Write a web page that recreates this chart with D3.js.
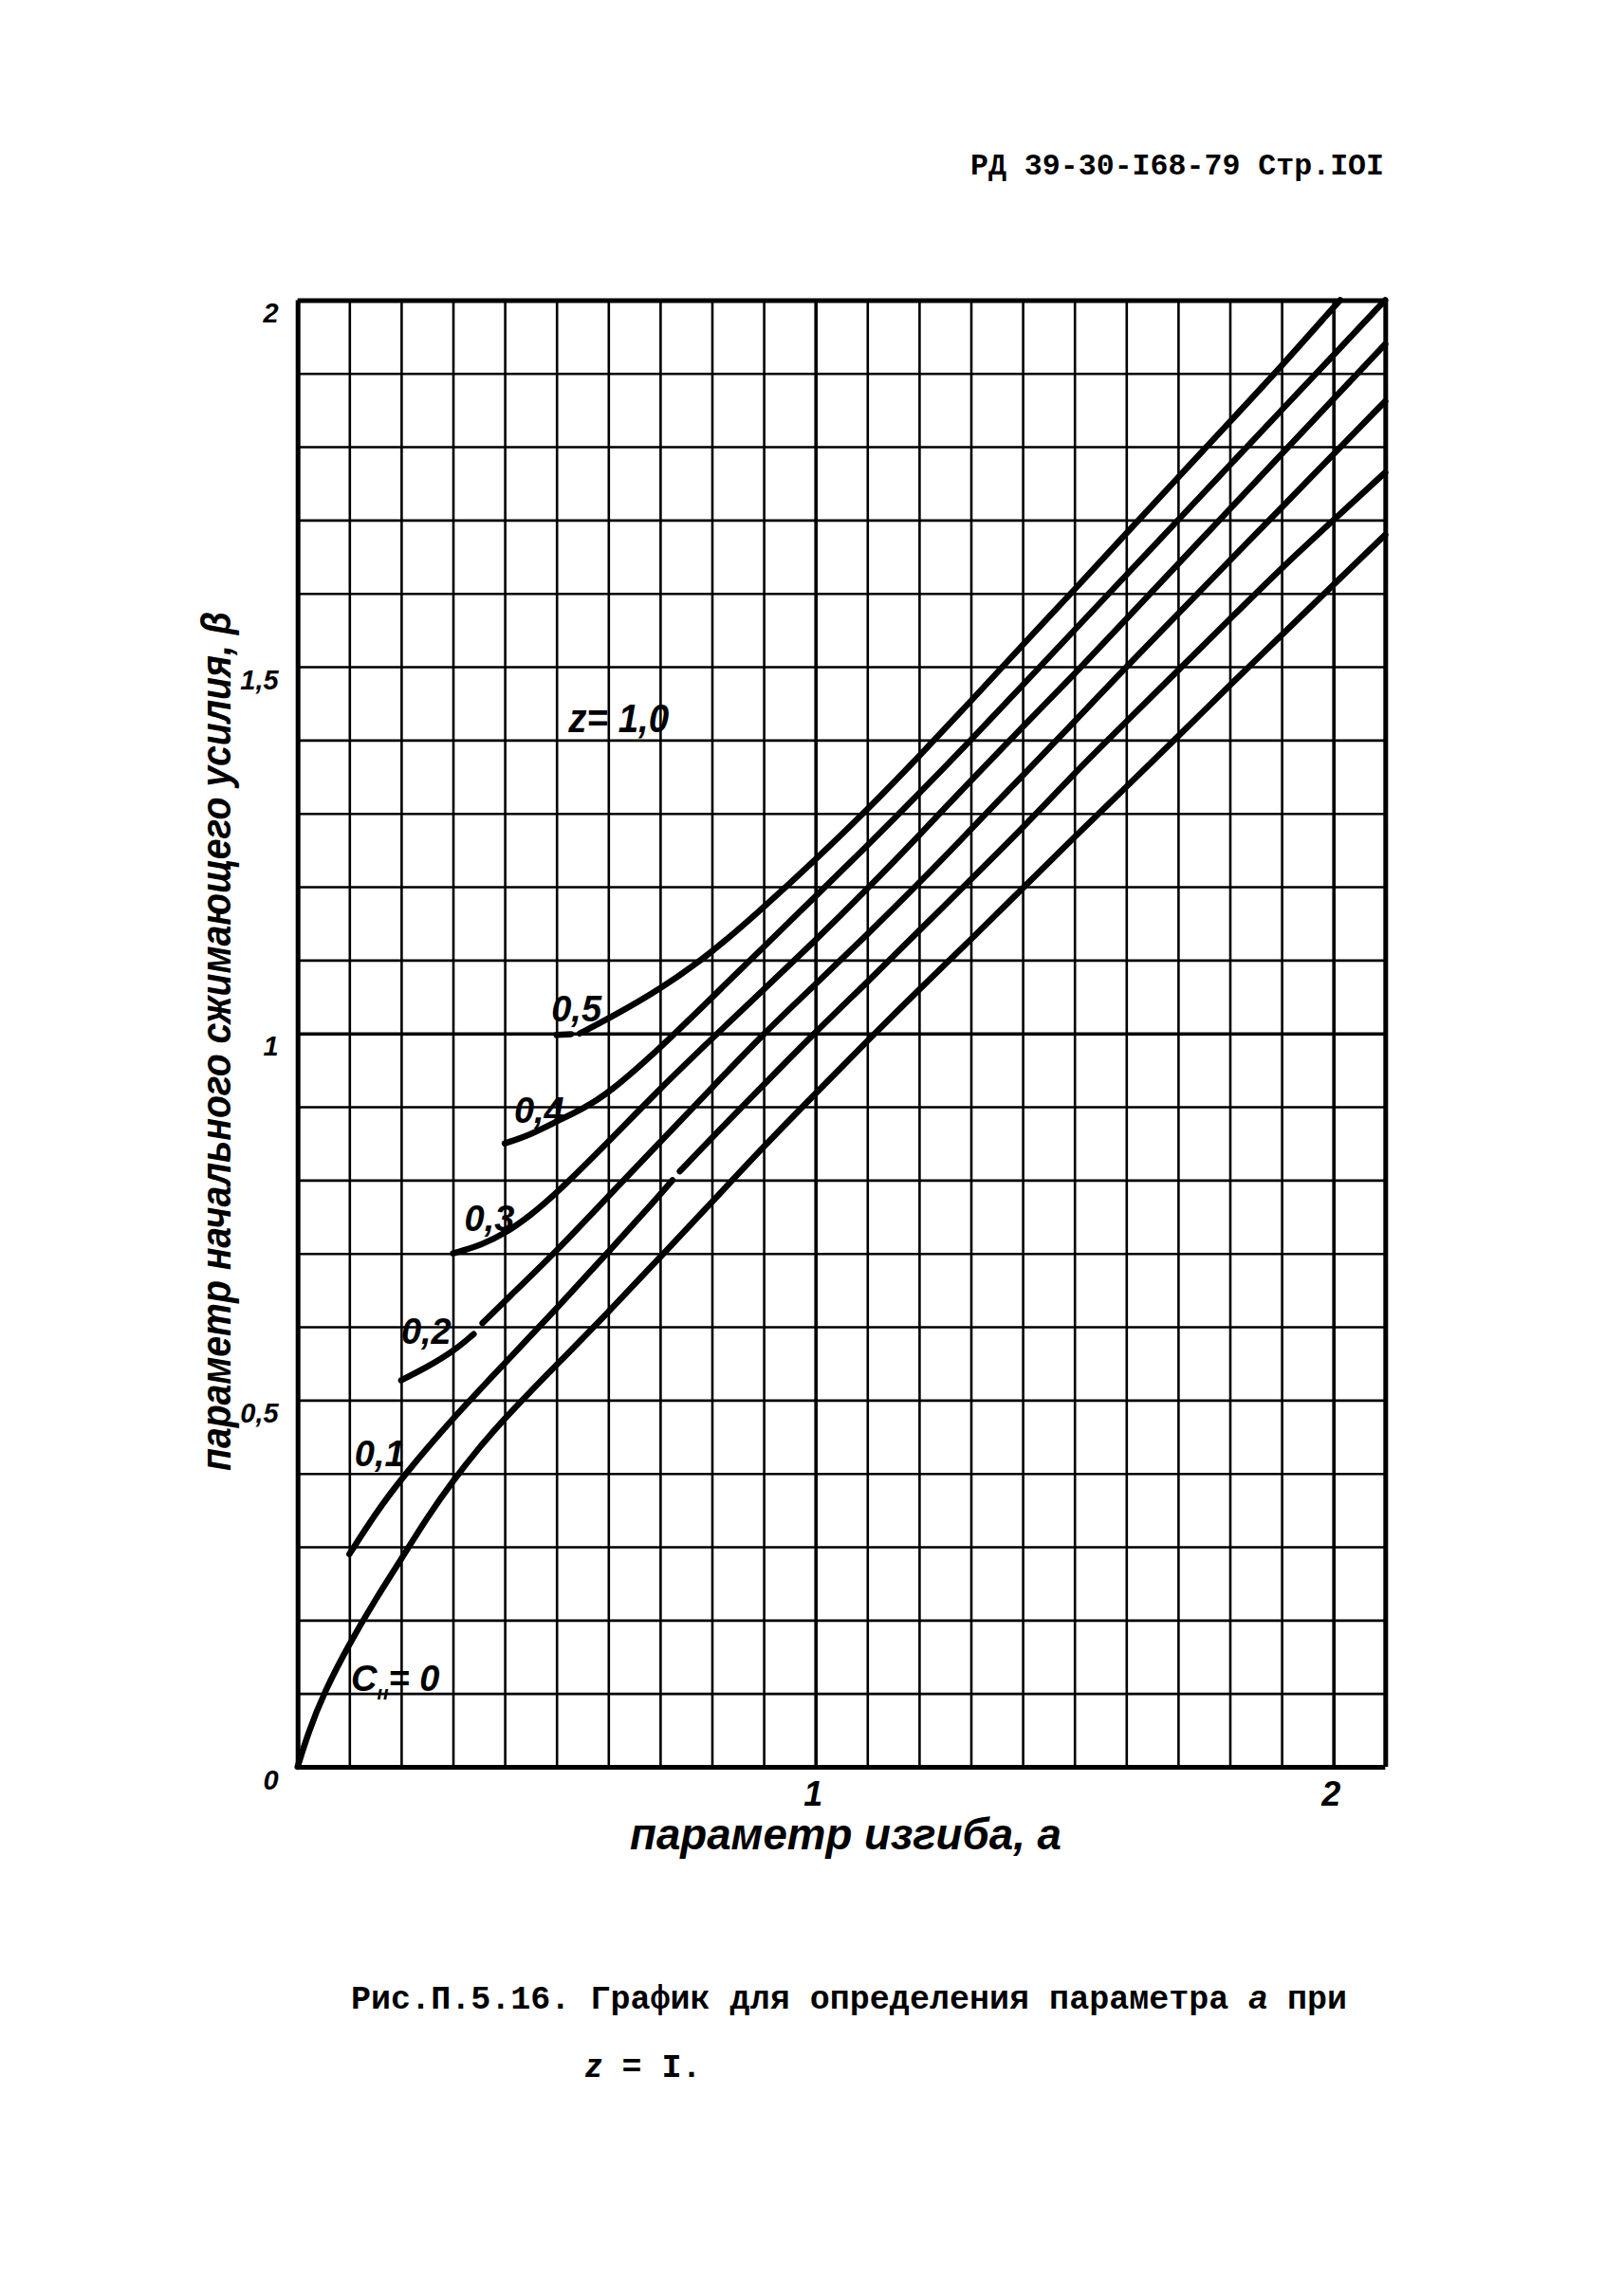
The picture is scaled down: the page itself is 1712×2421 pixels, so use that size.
<!DOCTYPE html>
<html><head><meta charset="utf-8">
<script src="https://cdn.jsdelivr.net/npm/d3@7"></script>
<style>body{margin:0;background:#fff;} svg{display:block;background:#fff;}</style>
</head><body>
<svg id="chart" width="1712" height="2421"></svg>
<script>
// ---------- data ----------
const xTickValues = [1, 2];
const xTickLabels = ["1", "2"];
const yTickValues = [0, 0.5, 1, 1.5, 2];
const yTickLabels = ["0", "0,5", "1", "1,5", "2"];
const seriesNames = ["0", "0,1", "0,2", "0,3", "0,4", "0,5"];

// curve points [a, beta]; null marks a break in the drawn line
const curveC0 = [[0,0],[0.02,0.045],[0.05,0.10],[0.1,0.168],[0.15,0.228],[0.2,0.283],[0.25,0.34],[0.3,0.39],[0.35,0.435],[0.4,0.475],[0.45,0.512],[0.5,0.548],[0.6,0.62],[0.7,0.695],[0.8,0.77],[0.9,0.846],[1.0,0.918],[1.1,0.99],[1.2,1.06],[1.3,1.128],[1.4,1.198],[1.5,1.268],[1.6,1.336],[1.7,1.405],[1.8,1.475],[1.9,1.543],[2.0,1.612],[2.1,1.68]];
const curveC1 = [[0.1,0.29],[0.15,0.345],[0.2,0.393],[0.3,0.476],[0.4,0.55],[0.5,0.625],[0.6,0.702],[0.7,0.78],[0.724,0.8],null,[0.738,0.812],[0.8,0.858],[0.9,0.93],[1.0,1.002],[1.1,1.07],[1.2,1.14],[1.3,1.21],[1.4,1.28],[1.5,1.355],[1.6,1.425],[1.7,1.495],[1.8,1.565],[1.9,1.635],[2.0,1.70],[2.1,1.765]];
const curveC2 = [[0.2,0.527],[0.25,0.545],[0.3,0.566],[0.34,0.59],null,[0.357,0.605],[0.4,0.635],[0.5,0.703],[0.6,0.778],[0.7,0.852],[0.8,0.926],[0.9,1.0],[1.0,1.067],[1.1,1.135],[1.2,1.205],[1.3,1.278],[1.4,1.352],[1.5,1.425],[1.6,1.50],[1.7,1.572],[1.8,1.645],[1.9,1.717],[2.0,1.79],[2.1,1.862]];
const curveC3 = [[0.3,0.70],[0.35,0.71],[0.4,0.727],[0.45,0.752],[0.5,0.782],[0.6,0.852],[0.7,0.925],[0.8,0.993],[0.9,1.06],[1.0,1.127],[1.1,1.197],[1.2,1.27],[1.3,1.345],[1.4,1.418],[1.5,1.49],[1.6,1.565],[1.7,1.64],[1.8,1.715],[1.9,1.79],[2.0,1.865],[2.1,1.94]];
const curveC4 = [[0.4,0.85],[0.45,0.862],[0.5,0.88],[0.55,0.897],[0.6,0.918],[0.7,0.98],[0.8,1.049],[0.9,1.118],[1.0,1.187],[1.1,1.256],[1.2,1.327],[1.3,1.4],[1.4,1.475],[1.5,1.55],[1.6,1.625],[1.7,1.70],[1.8,1.775],[1.9,1.85],[2.0,1.925],[2.1,2.0]];
const curveC5 = [[0.5,0.998],[0.528,0.999],null,[0.545,1.0],[0.6,1.02],[0.7,1.06],[0.8,1.11],[0.9,1.172],[1.0,1.237],[1.1,1.305],[1.2,1.378],[1.3,1.453],[1.4,1.53],[1.5,1.605],[1.6,1.682],[1.7,1.758],[1.8,1.834],[1.9,1.91],[2.0,1.99],[2.013,2.0]];
const curves = [curveC0, curveC1, curveC2, curveC3, curveC4, curveC5];

// label anchors in data units [a, beta]
const curveLabelAnchors = [[0.103,0.103],[0.11,0.41],[0.2,0.577],[0.322,0.73],[0.418,0.878],[0.49,1.017]];
const zLabelAnchor = [0.523, 1.411];

// ---------- layout ----------
const svg = d3.select("#chart");
const x = d3.scaleLinear().domain([0, 2.1]).range([313.7, 1460.3]);
const y = d3.scaleLinear().domain([0, 2]).range([1863, 316.4]);
const xGrid = d3.range(0, 22).map(i => +(i / 10).toFixed(1));
const yGrid = d3.range(0, 21).map(i => +(i / 10).toFixed(1));
const handFont = "'Liberation Sans', Arial, sans-serif";
const monoFont = "'Liberation Mono', 'DejaVu Sans Mono', monospace";

function gridWidth(v, max) {
  if (v === 0 || Math.abs(v - max) < 1e-9) return 5;
  if (Math.abs(v - Math.round(v)) < 1e-9) return 3.6;
  return 2.6;
}

// vertical grid
const gx = svg.append("g").attr("transform", `translate(0,${y(0)})`)
  .call(d3.axisBottom(x).tickValues(xGrid).tickSize(-(y(0) - y(2))).tickFormat(""));
gx.select(".domain").remove();
gx.selectAll(".tick line").attr("stroke", "#000").attr("stroke-width", d => gridWidth(d, 2.1));

// horizontal grid
const gy = svg.append("g").attr("transform", `translate(${x(0)},0)`)
  .call(d3.axisLeft(y).tickValues(yGrid).tickSize(-(x(2.1) - x(0))).tickFormat(""));
gy.select(".domain").remove();
gy.selectAll(".tick line").attr("stroke", "#000").attr("stroke-width", d => gridWidth(d, 2));

// curves
const line = d3.line().defined(d => d !== null).x(d => x(d[0])).y(d => y(d[1]))
  .curve(d3.curveBasis);
svg.append("g").selectAll("path").data(curves).join("path")
  .attr("d", line).attr("fill", "none").attr("stroke", "#000")
  .attr("stroke-width", 6.5).attr("stroke-linecap", "round").attr("stroke-linejoin", "round");

// tick labels
const ax = svg.append("g").attr("transform", `translate(0,${y(0)})`)
  .call(d3.axisBottom(x).tickValues(xTickValues).tickSize(0).tickFormat((d, i) => xTickLabels[i]));
ax.select(".domain").remove();
ax.selectAll("text").attr("font-family", handFont).attr("font-style", "italic").attr("font-weight", "bold")
  .attr("font-size", 36).attr("fill", "#000").attr("dy", "1.05em").attr("dx", -3);

const ay = svg.append("g").attr("transform", `translate(${x(0) - 17},0)`)
  .call(d3.axisLeft(y).tickValues(yTickValues).tickSize(0).tickFormat((d, i) => yTickLabels[i]));
ay.select(".domain").remove();
ay.selectAll("text").attr("font-family", handFont).attr("font-style", "italic").attr("font-weight", "bold")
  .attr("font-size", 29).attr("fill", "#000").attr("dy", "0.8em");

// axis titles
svg.append("text").attr("x", 664).attr("y", 1950)
  .attr("font-family", handFont).attr("font-style", "italic").attr("font-weight", "bold").attr("font-size", 46)
  .attr("textLength", 455).attr("lengthAdjust", "spacingAndGlyphs")
  .text("параметр изгиба,  a");

svg.append("text").attr("transform", "translate(243,1098) rotate(-90)")
  .attr("text-anchor", "middle")
  .attr("font-family", handFont).attr("font-style", "italic").attr("font-weight", "bold").attr("font-size", 44)
  .attr("textLength", 906).attr("lengthAdjust", "spacingAndGlyphs")
  .text("параметр начального сжимающего усилия, β");

// curve labels
svg.append("g").selectAll("text").data(seriesNames).join("text")
  .attr("x", (d, i) => x(curveLabelAnchors[i][0]))
  .attr("y", (d, i) => y(curveLabelAnchors[i][1]))
  .attr("font-family", handFont).attr("font-style", "italic").attr("font-weight", "bold")
  .attr("font-size", 38).attr("fill", "#000")
  .each(function (d, i) {
    const t = d3.select(this);
    if (i === 0) {
      t.append("tspan").text("C");
      t.append("tspan").attr("font-size", 20).attr("dy", 9).text("н");
      t.append("tspan").attr("dy", -9).text("= " + d);
    } else {
      t.text(d);
    }
  });

svg.append("text").attr("x", x(zLabelAnchor[0])).attr("y", y(zLabelAnchor[1]))
  .attr("font-family", handFont).attr("font-style", "italic").attr("font-weight", "bold")
  .attr("font-size", 42).attr("textLength", 106).attr("lengthAdjust", "spacingAndGlyphs").text("z= 1,0");

// header
svg.append("text").attr("x", 1023).attr("y", 184)
  .attr("font-family", monoFont).attr("font-weight", "bold").attr("font-size", 32)
  .attr("textLength", 436).attr("lengthAdjust", "spacingAndGlyphs")
  .text("РД 39-30-I68-79  Стр.IOI");

// caption
const cap = svg.append("text").attr("x", 370).attr("y", 2118)
  .attr("font-family", monoFont).attr("font-weight", "bold").attr("font-size", 35)
  .attr("textLength", 1050).attr("lengthAdjust", "spacing");
cap.append("tspan").text("Рис.П.5.16. График для определения параметра ");
cap.append("tspan").attr("font-family", handFont).attr("font-style", "italic").text("a");
cap.append("tspan").text("  при");

const cap2 = svg.append("text").attr("x", 617).attr("y", 2190)
  .attr("font-family", monoFont).attr("font-weight", "bold").attr("font-size", 35);
cap2.append("tspan").attr("font-family", handFont).attr("font-style", "italic").text("z");
cap2.append("tspan").text(" = I.");
</script>
</body></html>
